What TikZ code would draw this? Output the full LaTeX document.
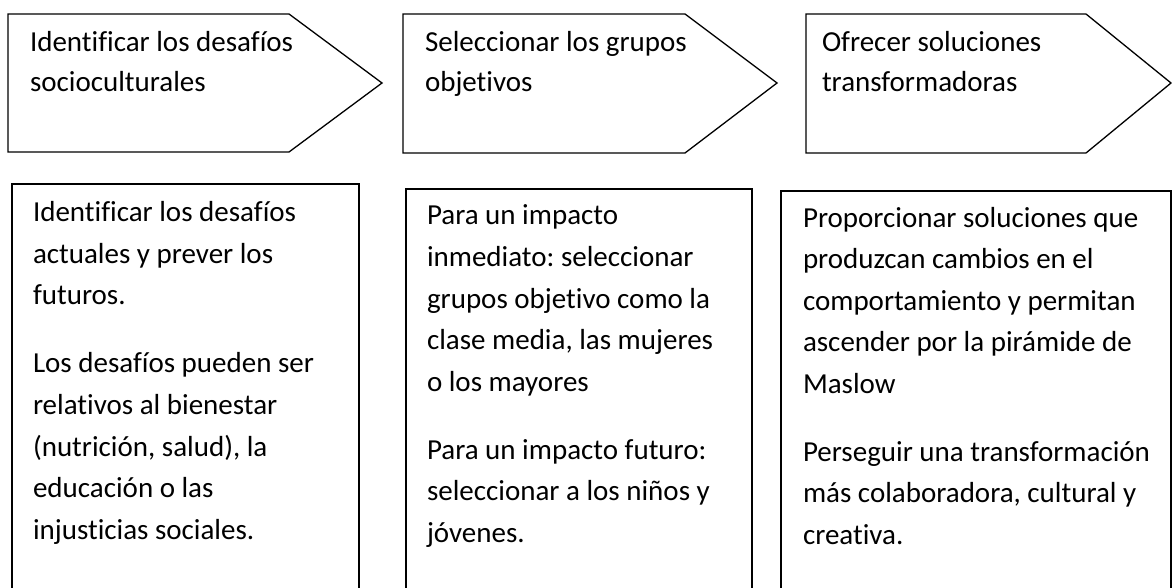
\documentclass[tikz,border=0pt]{standalone}
\usepackage{fontspec}
\setmainfont{Carlito}[RawFeature={-liga;-clig;-dlig}]
\frenchspacing
\tikzset{
  shapeline/.style={draw=black, line width=1.3pt, line join=miter},
  txt/.style={anchor=base west, inner sep=0pt, outer sep=0pt, text=black},
}
\newcommand{\boxtext}[1]{\parbox[t]{420pt}{\fontsize{29}{41.5}\selectfont\raggedright\frenchspacing\setlength{\parindent}{0pt}\setlength{\parskip}{26.5pt}#1}}
\newcommand{\headtext}[1]{\parbox[t]{420pt}{\fontsize{29}{40}\selectfont\raggedright\frenchspacing\setlength{\parindent}{0pt}#1}}
\begin{document}
\begin{tikzpicture}[x=1pt,y=-1pt]
\useasboundingbox (0,0) rectangle (1172,588);
\fill[white] (0,0) rectangle (1172,588);
\clip (0,0) rectangle (1172,588);
% header arrows
\draw[shapeline] (8,14) -- (289,14) -- (382,83) -- (289,152) -- (8,152) -- cycle;
\draw[shapeline] (403,14) -- (685,14) -- (777,83) -- (685,153) -- (403,153) -- cycle;
\draw[shapeline] (806,14) -- (1086,14) -- (1171,83) -- (1086,153) -- (806,153) -- cycle;
\node[txt] (h1) at (30,52) {\headtext{Identificar los desafíos\\socioculturales}};
\node[txt] (h2) at (425,52) {\headtext{Seleccionar los grupos\\objetivos}};
\node[txt] (h3) at (822,52) {\headtext{Ofrecer soluciones\\transformadoras}};
% boxes
\draw[shapeline] (12,600) -- (12,184) -- (359,184) -- (359,600);
\draw[shapeline] (406,600) -- (406,189) -- (752,189) -- (752,600);
\draw[shapeline] (781,600) -- (781,191) -- (1171,191) -- (1171,600);
\node[txt] (b1) at (33,222) {\boxtext{Identificar los desafíos\\actuales y prever los\\futuros.\par
Los desafíos pueden ser\\relativos al bienestar\\(nutrición, salud), la\\educación o las\\injusticias sociales.}};
\node[txt] (b2) at (427,225) {\boxtext{Para un impacto\\inmediato: seleccionar\\grupos objetivo como la\\clase media, las mujeres\\o los mayores\par
Para un impacto futuro:\\seleccionar a los niños y\\jóvenes.}};
\node[txt] (b3) at (803,227) {\boxtext{Proporcionar soluciones que\\produzcan cambios en el\\comportamiento y permitan\\ascender por la pirámide de\\Maslow\par
Perseguir una transformación\\más colaboradora, cultural y\\creativa.}};
\end{tikzpicture}
\end{document}
